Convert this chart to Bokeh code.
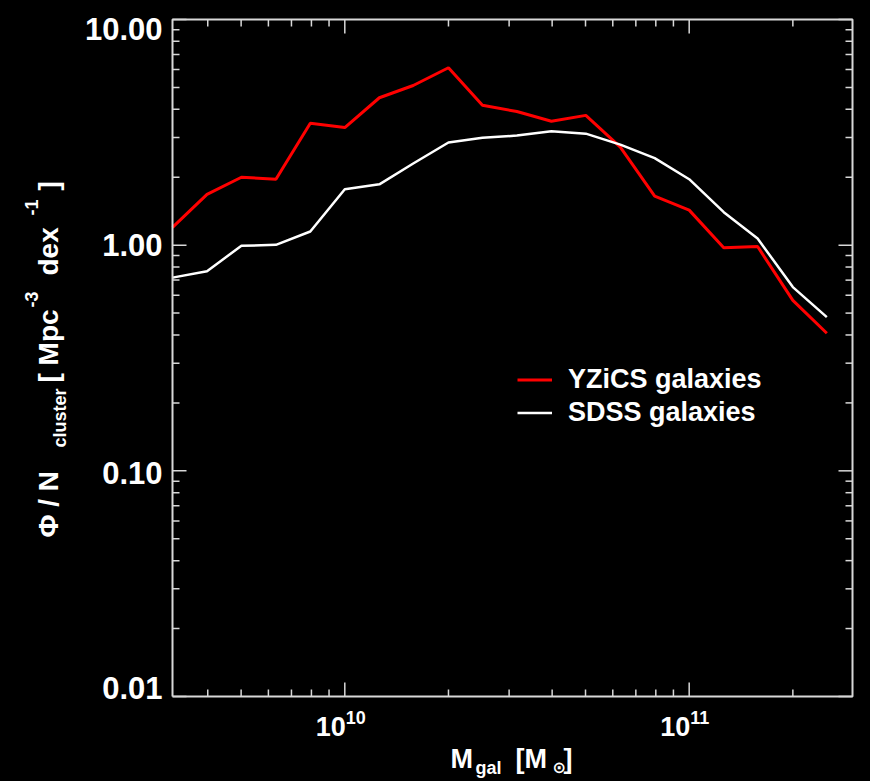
import math
from bokeh.plotting import figure
from bokeh.models import Range1d, Label, Legend, LegendItem
from bokeh.embed import file_html
from bokeh.resources import INLINE

# ---- data ----
mass = [3.16e9, 3.98e9, 5.01e9, 6.31e9, 7.94e9, 1.00e10, 1.26e10, 1.58e10, 2.00e10, 2.51e10,
        3.16e10, 3.98e10, 5.01e10, 6.31e10, 7.94e10, 1.00e11, 1.26e11, 1.58e11, 2.00e11, 2.51e11]
yzics = [1.20, 1.68, 2.00, 1.96, 3.47, 3.32, 4.50, 5.10, 6.11, 4.17,
         3.91, 3.54, 3.76, 2.72, 1.65, 1.43, 0.973, 0.986, 0.569, 0.407]
sdss = [0.718, 0.767, 0.994, 1.003, 1.15, 1.77, 1.86, 2.30, 2.85, 2.99,
        3.06, 3.20, 3.12, 2.79, 2.43, 1.96, 1.40, 1.07, 0.652, 0.480]

x_lim = [3.16e9, 2.98e11]
y_lim = [0.01, 10.0]
x_major = [1e10, 1e11]
x_major_exp = ["10", "11"]
x_minor = [4e9, 5e9, 6e9, 7e9, 8e9, 9e9,
           2e10, 3e10, 4e10, 5e10, 6e10, 7e10, 8e10, 9e10, 2e11]
y_major = [0.01, 0.1, 1.0, 10.0]
y_major_text = ["0.01", "0.10", "1.00", "10.00"]
y_minor = [0.02, 0.03, 0.04, 0.05, 0.06, 0.07, 0.08, 0.09,
           0.2, 0.3, 0.4, 0.5, 0.6, 0.7, 0.8, 0.9,
           2, 3, 4, 5, 6, 7, 8, 9]

FONT = "Liberation Sans"
AX = "#d8d8d8"

# ---- geometry (pixels) ----
W, H = 868, 779
FL, FT, FW, FH = 172, 19, 680, 677      # plotting box left/top/width/height on the page

lx0, lx1 = math.log10(x_lim[0]), math.log10(x_lim[1])
ly0, ly1 = math.log10(y_lim[0]), math.log10(y_lim[1])
dpx = (lx1 - lx0) / FW
dpy = (ly1 - ly0) / FH
x_rng = Range1d(10 ** (lx0 - dpx * FL), 10 ** (lx1 + dpx * (W - FL - FW)))
y_rng = Range1d(10 ** (ly0 - dpy * (H - FT - FH)), 10 ** (ly1 + dpy * FT))

p = figure(x_axis_type="log", y_axis_type="log", title=None,
           x_range=x_rng, y_range=y_rng,
           frame_width=W, frame_height=H, min_border=0,
           x_axis_location=None, y_axis_location=None,
           background_fill_color="black", border_fill_color="black",
           outline_line_color=None, output_backend="svg", toolbar_location=None)
p.grid.visible = False

# ---- data lines ----
r1 = p.line(mass, yzics, line_color="#ff0000", line_width=3)
r2 = p.line(mass, sdss, line_color="#ffffff", line_width=2.5)

# ---- axes box and inward ticks ----
p.line([x_lim[0], x_lim[1], x_lim[1], x_lim[0], x_lim[0]],
       [y_lim[0], y_lim[0], y_lim[1], y_lim[1], y_lim[0]],
       line_color=AX, line_width=2)

def ticks_x(vals, length):
    n = len(vals)
    p.ray(x=vals, y=[y_lim[0]] * n, length=length, length_units="screen",
          angle=math.pi / 2, line_color=AX, line_width=1.5)
    p.ray(x=vals, y=[y_lim[1]] * n, length=length, length_units="screen",
          angle=-math.pi / 2, line_color=AX, line_width=1.5)

def ticks_y(vals, length):
    n = len(vals)
    p.ray(x=[x_lim[0]] * n, y=vals, length=length, length_units="screen",
          angle=0.0, line_color=AX, line_width=1.5)
    p.ray(x=[x_lim[1]] * n, y=vals, length=length, length_units="screen",
          angle=math.pi, line_color=AX, line_width=1.5)

ticks_x(x_major, 14)
ticks_x(x_minor, 7)
ticks_y(y_major, 14)
ticks_y(y_minor, 7)

# ---- legend ----
legend = Legend(items=[LegendItem(label="YZiCS galaxies", renderers=[r1]),
                       LegendItem(label="SDSS galaxies", renderers=[r2])],
                location=(FL + 345, H - FT - FH + 267), padding=0, margin=0, spacing=0,
                glyph_width=35, glyph_height=33, label_height=33, label_standoff=16,
                label_text_font=FONT, label_text_font_style="bold",
                label_text_font_size="27px", label_text_color="white",
                border_line_color=None, background_fill_alpha=0)
p.add_layout(legend)

def lab(x, y, text, size, angle=0.0, font=FONT, xu="screen", yu="screen",
        align="left", x_off=0, y_off=0):
    p.add_layout(Label(x=x, y=y, x_units=xu, y_units=yu, text=text,
                       x_offset=x_off, y_offset=y_off,
                       angle=angle, text_font=font, text_font_size=size,
                       text_font_style="bold", text_color="white",
                       text_align=align, text_baseline="alphabetic"))

# ---- y tick labels ----
y_label_shift = [9, -2, 0, -9]
for v, t, d in zip(y_major, y_major_text, y_label_shift):
    lab(x_lim[0], v, t, "31px", xu="data", yu="data", align="right", x_off=-10, y_off=d)

# ---- x tick labels (10 with superscript exponent) ----
for v, e in zip(x_major, x_major_exp):
    lab(v, y_lim[0], "10", "27px", xu="data", yu="data", align="right", x_off=1, y_off=-30)
    lab(v, y_lim[0], e, "18px", xu="data", yu="data", align="left", x_off=1, y_off=-21)

# ---- y title (rotated, with sub/superscripts) ----
A = math.pi / 2
lab(48, H - 537, "\u03a6 / N", "28px", A)
lab(59, H - 447, "cluster", "18px", A)
lab(48, H - 382, "[ Mpc", "28px", A)
lab(31, H - 307, "-3", "18px", A)
lab(48, H - 275, "dex", "28px", A)
lab(31, H - 215, "-1", "18px", A)
lab(48, H - 190, "]", "28px", A)

# ---- x title ----
lab(450, H - 758, "M", "27px")
lab(475, H - 767, "gal", "18px")
lab(515, H - 758, "[M", "27px")
lab(552, H - 767, "\u2299", "16px", 0.0, "DejaVu Sans")
lab(563, H - 758, "]", "27px")

html = file_html(p, INLINE)
html = html.replace("</head>", "<style>html,body{background:#000;}</style></head>", 1)
open("out.html", "w").write(html)
